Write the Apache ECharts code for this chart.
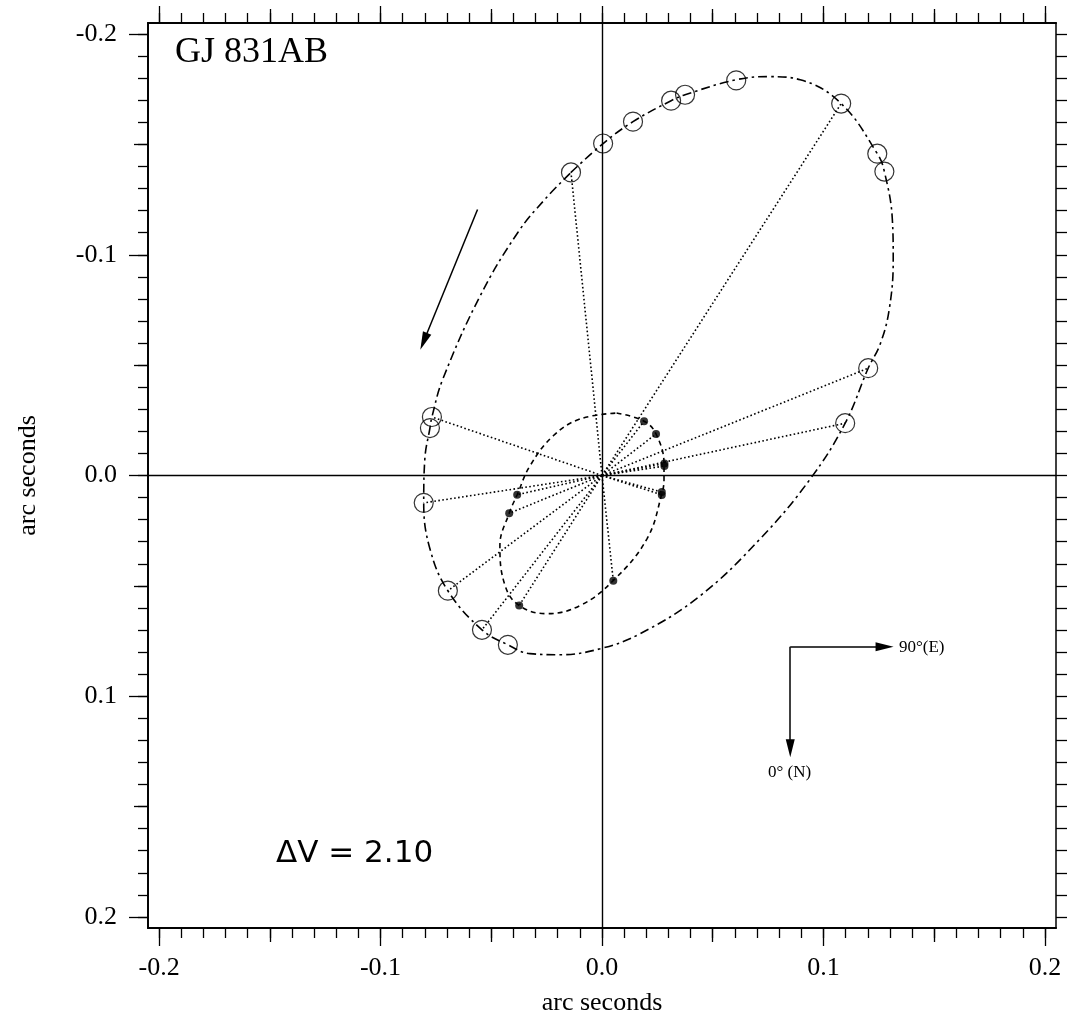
<!DOCTYPE html>
<html>
<head>
<meta charset="utf-8">
<title>GJ 831AB</title>
<script src="https://cdn.jsdelivr.net/npm/echarts@6/dist/echarts.min.js"></script>
<style>
  html, body { margin: 0; padding: 0; background: #fff; }
  #chart { width: 1069px; height: 1021px; }
</style>
</head>
<body>
<div id="chart"></div>
<script>
// observed positions of the secondary (arc seconds, [x, y])
const secondaryPos = [
  [0.0606, -0.1790], [0.0375, -0.1725], [0.0312, -0.1698], [0.0140, -0.1603],
  [0.0005, -0.1504], [-0.0140, -0.1373], [0.1080, -0.1685], [0.1243, -0.1458],
  [0.1275, -0.1377], [0.1202, -0.0486], [0.1098, -0.0237], [-0.0768, -0.0265],
  [-0.0777, -0.0215], [-0.0805, 0.0124], [-0.0696, 0.0522], [-0.0542, 0.0699],
  [-0.0425, 0.0767]
]
// secondary points that get a dotted line from the origin
const linkedSecondary = [5, 6, 9, 10, 11, 13, 14, 15]

// photocentre positions (filled dots)
const primaryPos = [
  [0.0190, -0.0246], [0.0244, -0.0188], [0.0282, -0.0054], [0.0282, -0.0043],
  [0.0270, 0.0075], [0.0270, 0.0088], [-0.0383, 0.0087], [-0.0419, 0.0171],
  [-0.0374, 0.0589], [0.0051, 0.0477]
]

// relative orbit
const outerOrbit = [
  [-0.0140, -0.1373], [0.0005, -0.1504], [0.0140, -0.1603], [0.0312, -0.1698],
  [0.0375, -0.1725], [0.0606, -0.1793], [0.0759, -0.1807], [0.0895, -0.1793],
  [0.1080, -0.1685], [0.1243, -0.1458], [0.1275, -0.1377], [0.1311, -0.1160],
  [0.1315, -0.0980], [0.1297, -0.0753], [0.1256, -0.0595], [0.1202, -0.0486],
  [0.1098, -0.0237], [0.0940, 0.0016], [0.0714, 0.0287], [0.0443, 0.0545],
  [0.0172, 0.0717], [-0.0009, 0.0785], [-0.0190, 0.0812], [-0.0325, 0.0807],
  [-0.0425, 0.0767], [-0.0542, 0.0699], [-0.0696, 0.0522], [-0.0777, 0.0332],
  [-0.0805, 0.0124], [-0.0800, -0.0075], [-0.0777, -0.0215], [-0.0768, -0.0265],
  [-0.0719, -0.0436], [-0.0551, -0.0812], [-0.0380, -0.1101], [-0.0258, -0.1251],
  [-0.0140, -0.1373]
]

// photocentric orbit
const innerOrbit = [
  [0.0066, -0.0283], [0.0190, -0.0246], [0.0244, -0.0188], [0.0280, -0.0052],
  [0.0280, 0.0016], [0.0270, 0.0084], [0.0203, 0.0287], [0.0050, 0.0477],
  [-0.0099, 0.0589], [-0.0250, 0.0626], [-0.0374, 0.0589], [-0.0438, 0.0498],
  [-0.0461, 0.0317], [-0.0419, 0.0171], [-0.0383, 0.0087], [-0.0325, -0.0044],
  [-0.0220, -0.0180], [-0.0099, -0.0256], [0.0066, -0.0283]
]

// direction of motion arrow and the compass (end = middle of the arrow head)
const motionArrow = [[-0.0562, -0.1205], [-0.0805, -0.0608]]
const compassOrigin = [0.0850, 0.0776]
const compassEast = [0.1276, 0.0776]
const compassNorth = [0.0850, 0.1236]

const majorTicks = [-0.2, -0.1, 0, 0.1, 0.2]
const midTicks = [-0.15, -0.05, 0.05, 0.15]
const minorTicks = Array.from({ length: 41 }, (_, i) => (i - 20) / 100)

const AX_MIN = -0.205
const AX_MAX = 0.205
const serif = '"Liberation Serif", "Times New Roman", serif'
// narrow arrow head inside a square box (the empty sub paths only set the box)
const arrowHead = 'path://M0,0L0,0M10,0L15,18L5,18ZM20,18L20,18'

const chart = echarts.init(document.getElementById('chart'), null, { renderer: 'canvas' })

const tickAxis = (dim, position, values, len, withLabels) => {
  const ax = {
    type: 'value',
    position: position,
    min: AX_MIN,
    max: AX_MAX,
    inverse: dim === 'y',
    axisLine: { show: true, onZero: false, lineStyle: { color: '#000', width: 1.5 } },
    axisTick: { show: true, inside: false, length: len, customValues: values, lineStyle: { color: '#000', width: 1.3 } },
    axisLabel: { show: false },
    splitLine: { show: false }
  }
  if (withLabels) {
    ax.axisLabel = {
      show: true,
      customValues: majorTicks,
      formatter: v => v.toFixed(1),
      color: '#000',
      fontFamily: serif,
      fontSize: 26,
      margin: dim === 'x' ? 27 : 31
    }
    ax.name = 'arc seconds'
    ax.nameLocation = 'middle'
    ax.nameGap = dim === 'x' ? 62 : 107
    ax.nameTextStyle = { color: '#000', fontFamily: serif, fontSize: 26 }
  }
  return ax
}

const xAxes = [
  tickAxis('x', 'bottom', majorTicks, 18, true),
  tickAxis('x', 'bottom', midTicks, 14, false),
  tickAxis('x', 'bottom', minorTicks, 10, false),
  tickAxis('x', 'top', majorTicks, 17, false),
  tickAxis('x', 'top', midTicks, 14, false),
  tickAxis('x', 'top', minorTicks, 10, false)
]
const yAxes = [
  tickAxis('y', 'left', majorTicks, 19, true),
  tickAxis('y', 'left', midTicks, 14, false),
  tickAxis('y', 'left', minorTicks, 10, false),
  tickAxis('y', 'right', minorTicks, 11, false)
]

const spokes = linkedSecondary.map(i => ({ coords: [[0, 0], secondaryPos[i]] }))
  .concat(primaryPos.map(p => ({ coords: [[0, 0], p] })))

const option = {
  animation: false,
  backgroundColor: '#fff',
  grid: { left: 148, top: 23, width: 908, height: 906, containLabel: false },
  xAxis: xAxes,
  yAxis: yAxes,
  series: [
    {
      type: 'line',
      data: outerOrbit,
      smooth: 0.4,
      showSymbol: false,
      silent: true,
      lineStyle: { color: '#000', width: 1.6, type: [9, 4, 2.5, 4] },
      markLine: {
        silent: true,
        symbol: 'none',
        label: { show: false },
        lineStyle: { color: '#000', width: 1.4, type: 'solid' },
        data: [{ xAxis: 0 }, { yAxis: 0 }]
      }
    },
    {
      type: 'line',
      data: innerOrbit,
      smooth: 0.4,
      showSymbol: false,
      silent: true,
      lineStyle: { color: '#000', width: 1.6, type: [5, 4] }
    },
    {
      type: 'lines',
      coordinateSystem: 'cartesian2d',
      silent: true,
      lineStyle: { color: '#000', width: 1.6, type: [1.6, 2.4], opacity: 1 },
      data: spokes
    },
    {
      type: 'scatter',
      data: secondaryPos,
      symbol: 'circle',
      symbolSize: 19,
      silent: true,
      itemStyle: { color: 'rgba(0,0,0,0)', borderColor: '#000', borderWidth: 1.2 }
    },
    {
      type: 'scatter',
      data: primaryPos,
      symbol: 'circle',
      symbolSize: 8,
      silent: true,
      itemStyle: { color: '#000' }
    },
    {
      type: 'lines',
      coordinateSystem: 'cartesian2d',
      silent: true,
      symbol: ['none', arrowHead],
      symbolSize: 18,
      lineStyle: { color: '#000', width: 1.5, opacity: 1 },
      data: [
        { coords: motionArrow },
        { coords: [compassOrigin, compassEast] },
        { coords: [compassOrigin, compassNorth] }
      ]
    }
  ],
  graphic: [
    {
      type: 'text', left: 175, top: 35, silent: true,
      style: { text: 'GJ 831AB', font: '36px ' + serif, fill: '#000' }
    },
    {
      type: 'text', left: 276, top: 838, silent: true,
      style: { text: '\u0394V = 2.10', font: '31px "Comic Sans MS", "DejaVu Sans", sans-serif', fill: '#000' }
    },
    {
      type: 'text', left: 899, top: 639, silent: true,
      style: { text: '90\u00b0(E)', font: '17px ' + serif, fill: '#000' }
    },
    {
      type: 'text', left: 768, top: 764, silent: true,
      style: { text: '0\u00b0 (N)', font: '17px ' + serif, fill: '#000' }
    }
  ]
}

chart.setOption(option)
window.addEventListener('resize', () => chart.resize())
</script>
</body>
</html>
